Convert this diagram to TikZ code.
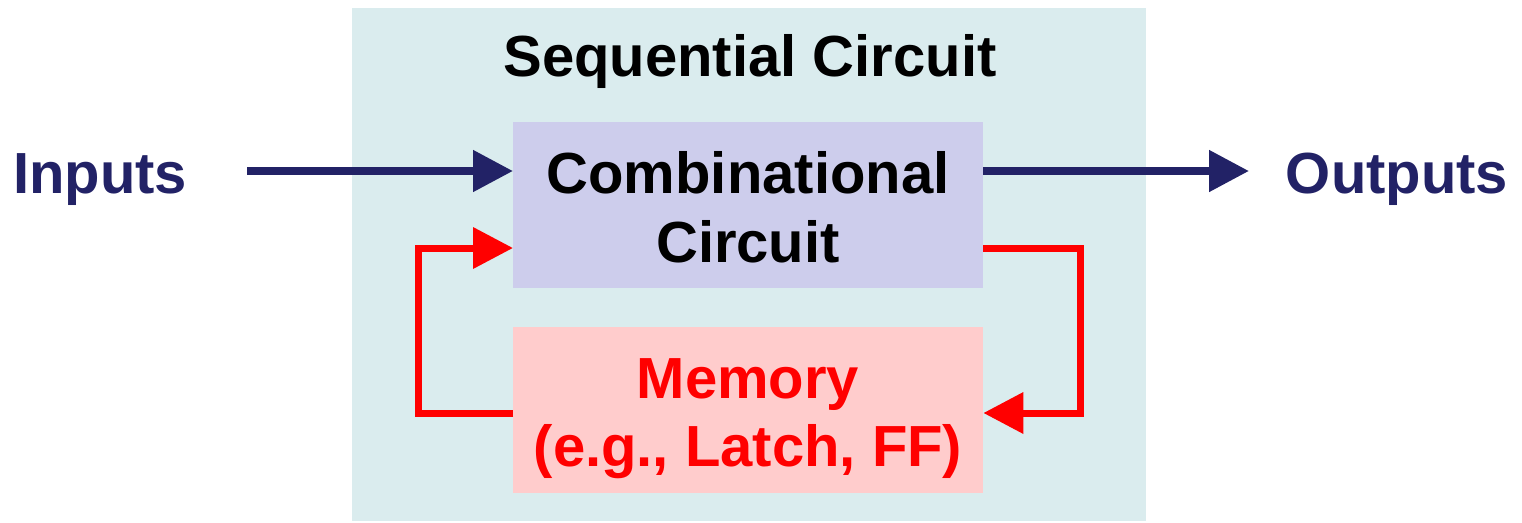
\documentclass[tikz,border=0pt]{standalone}
\usepackage{fontspec}
\setmainfont{Liberation Sans}
\usetikzlibrary{arrows.meta}
\definecolor{navy}{RGB}{34,34,102}
\definecolor{seqbg}{RGB}{218,236,238}
\definecolor{combbg}{RGB}{205,205,236}
\definecolor{membg}{RGB}{255,204,204}
\definecolor{fbred}{RGB}{255,0,0}
\tikzset{
  lbl/.style={font=\fontsize{58}{64}\selectfont\bfseries, inner sep=0pt, anchor=base},
  navyarrow/.style={draw=navy, line width=8pt, -{Triangle[length=40pt,width=40pt]}},
  redarrow/.style={draw=fbred, line width=7pt, -{Triangle[length=40pt,width=40pt]}},
  blockbox/.style={inner sep=0pt, minimum width=470pt, minimum height=166pt, anchor=north west}
}
\begin{document}
\begin{tikzpicture}[x=1pt,y=1pt]
\useasboundingbox (0,0) rectangle (1522,-522);
\fill[seqbg] (352,-8) rectangle (1146,-521);
\node[lbl] (title) at (750,-76) {Sequential Circuit};
\node[blockbox, fill=combbg] (comb) at (513,-122) {};
\node[blockbox, fill=membg] (mem) at (513,-327) {};
\node[lbl] (c1) at (748,-193) {Combinational};
\node[lbl] (c2) at (748,-262) {Circuit};
\node[lbl, text=fbred] (m1) at (748,-398) {Memory};
\node[lbl, text=fbred] (m2) at (748,-466) {(e.g., Latch, FF)};
\node[lbl, text=navy] (in) at (100,-193) {Inputs};
\node[lbl, text=navy] (out) at (1397,-193) {Outputs};
\coordinate (inS) at (247,-171);
\coordinate (outE) at (1249,-171);
\draw[navyarrow] (inS) -- (comb.west |- inS);
\draw[navyarrow] (comb.east |- inS) -- (outE);
\coordinate (rTop) at (983,-248);
\coordinate (rBot) at (983,-413);
\coordinate (lTop) at (513,-248);
\coordinate (lBot) at (513,-413);
\draw[redarrow] (comb.east |- rTop) -| (1080,-413) -- (mem.east |- rBot);
\draw[redarrow] (mem.west |- lBot) -| (418,-248) -- (comb.west |- lTop);
\end{tikzpicture}
\end{document}
